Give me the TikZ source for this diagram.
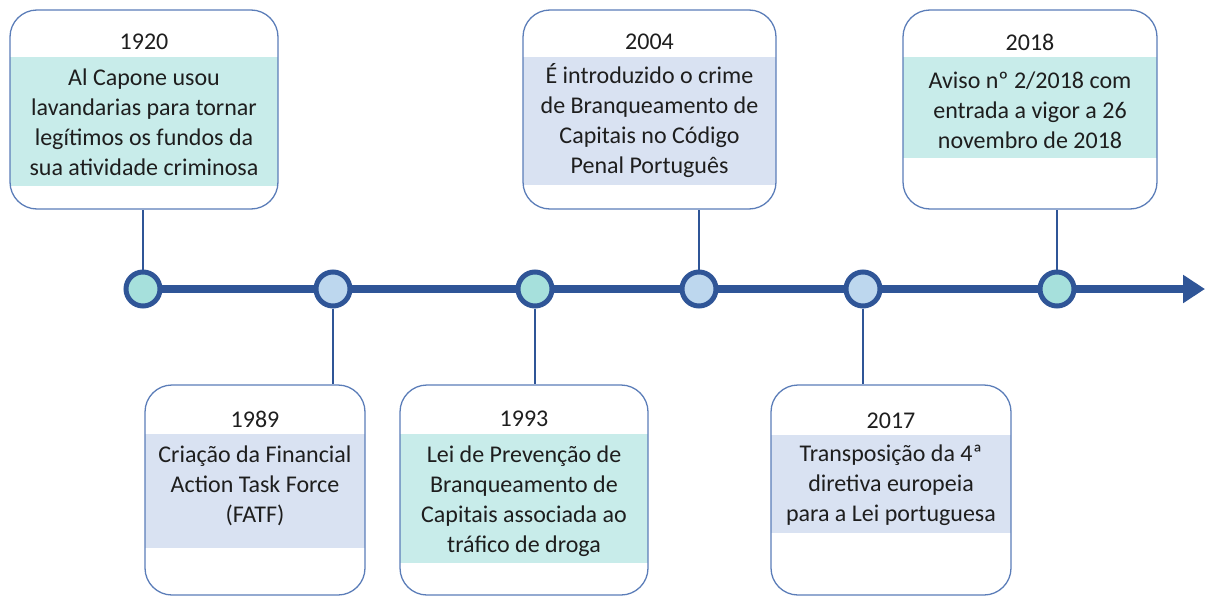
\documentclass[tikz,border=0pt]{standalone}
\usepackage{fontspec}
\setmainfont{Carlito}
\usetikzlibrary{arrows.meta}
\definecolor{lineblue}{HTML}{2F5597}
\definecolor{boxborder}{HTML}{5B7DB8}
\definecolor{bandteal}{HTML}{C8ECEA}
\definecolor{bandblue}{HTML}{D9E2F2}
\definecolor{circteal}{HTML}{A6E0DC}
\definecolor{circblue}{HTML}{BDD7EE}
\definecolor{txt}{HTML}{1E1E1E}
\tikzset{
  evbox/.style={draw=boxborder, line width=1.3pt, rounded corners=27pt, inner sep=0pt, fill=none},
  yr/.style={font=\fontsize{24}{30}\selectfont, text=txt, inner sep=0pt},
  desc/.style={font=\fontsize{24}{30}\selectfont, text=txt, align=center, inner sep=0pt},
  dot/.style={circle, draw=lineblue, line width=5pt, minimum size=34pt, inner sep=0pt},
  conn/.style={draw=lineblue, line width=2pt},
}
\begin{document}
\begin{tikzpicture}[x=1pt,y=-1pt]
\useasboundingbox (0,0) rectangle (1205,597);
% bands
\fill[bandteal] (10,57) rectangle (278,186);
\fill[bandblue] (523,57) rectangle (776,185);
\fill[bandteal] (903,57) rectangle (1157,158);
\fill[bandblue] (145,434) rectangle (365,548);
\fill[bandteal] (400,434) rectangle (648,563);
\fill[bandblue] (771,435) rectangle (1011,533);
% boxes
\node[evbox, minimum width=268pt, minimum height=199pt] (b1920) at (144,109.5) {};
\node[evbox, minimum width=253pt, minimum height=199pt] (b2004) at (649.5,109.5) {};
\node[evbox, minimum width=254pt, minimum height=199pt] (b2018) at (1030,109.5) {};
\node[evbox, minimum width=220pt, minimum height=210pt] (b1989) at (255,490) {};
\node[evbox, minimum width=248pt, minimum height=210pt] (b1993) at (524,490) {};
\node[evbox, minimum width=240pt, minimum height=210pt] (b2017) at (891,490) {};
% years
\node[yr] (y1920) at (144,42) {1920};
\node[yr] (y2004) at (649.5,42) {2004};
\node[yr] (y2018) at (1030,42) {2018};
\node[yr] (y1989) at (255,419) {1989};
\node[yr] (y1993) at (524,419) {1993};
\node[yr] (y2017) at (891,421) {2017};
% descriptions
\node[desc] (d1920) at (144,122) {Al Capone usou\\lavandarias para tornar\\legítimos os fundos da\\sua atividade criminosa};
\node[desc] (d2004) at (649.5,121) {É introduzido o crime\\de Branqueamento de\\Capitais no Código\\Penal Português};
\node[desc] (d2018) at (1030,110) {Aviso nº 2/2018 com\\entrada a vigor a 26\\novembro de 2018};
\node[desc] (d1989) at (255,486) {Criação da Financial\\Action Task Force\\(FATF)};
\node[desc] (d1993) at (524,501) {Lei de Prevenção de\\Branqueamento de\\Capitais associada ao\\tráfico de droga};
\node[desc] (d2017) at (891,485) {Transposição da 4ª\\diretiva europeia\\para a Lei portuguesa};
% timeline
\coordinate (tstart) at (143,289);
\coordinate (tend) at (1205,289);
\draw[lineblue, line width=8pt, -{Triangle[length=22pt,width=27pt]}] (tstart) -- (tend);
% dots
\node[dot, fill=circteal] (c1920) at (143,289) {};
\node[dot, fill=circblue] (c1989) at (333,289) {};
\node[dot, fill=circteal] (c1993) at (535,289) {};
\node[dot, fill=circblue] (c2004) at (699,289) {};
\node[dot, fill=circblue] (c2017) at (863,289) {};
\node[dot, fill=circteal] (c2018) at (1057,289) {};
% connectors
\draw[conn] (c1920.north) -- (c1920.north |- b1920.south);
\draw[conn] (c2004.north) -- (c2004.north |- b2004.south);
\draw[conn] (c2018.north) -- (c2018.north |- b2018.south);
\draw[conn] (c1989.south) -- (c1989.south |- b1989.north);
\draw[conn] (c1993.south) -- (c1993.south |- b1993.north);
\draw[conn] (c2017.south) -- (c2017.south |- b2017.north);
\end{tikzpicture}
\end{document}
